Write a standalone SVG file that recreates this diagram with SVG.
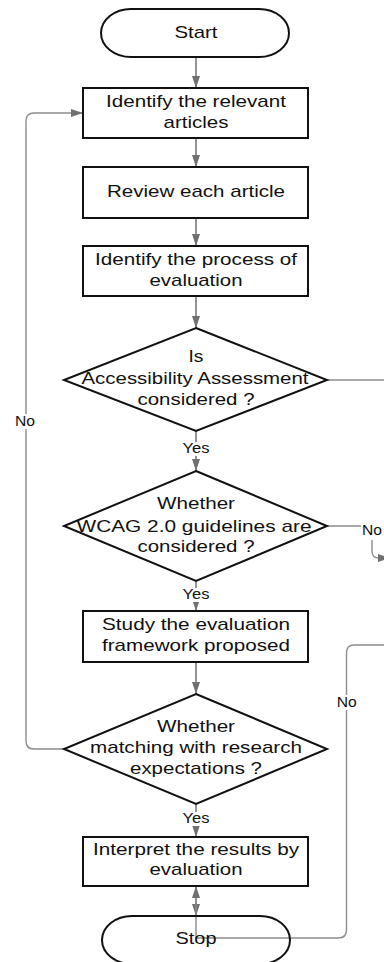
<svg xmlns="http://www.w3.org/2000/svg" width="384" height="962" viewBox="0 0 384 962">
  <defs>
    <style>
      .node { fill: #ffffff; stroke: #111111; stroke-width: 2; }
      .conn { fill: none; stroke: #7a7a7a; stroke-width: 1.6; }
      .loop { fill: none; stroke: #8c8c8c; stroke-width: 1.4; }
      .t { font-family: "Liberation Sans", Arial, sans-serif; font-size: 17px; fill: #111111; text-anchor: middle; }
      .lbl { font-family: "Liberation Sans", Arial, sans-serif; font-size: 14px; fill: #111111; text-anchor: middle; }
      .lblbg { fill: #ffffff; stroke: none; }
    </style>
    <marker id="arrow" viewBox="0 0 12 8" refX="12" refY="4" markerWidth="12" markerHeight="8" markerUnits="userSpaceOnUse" orient="auto">
      <path d="M0,0 L12,4 L0,8 z" fill="#707070"/>
    </marker>
  </defs>
  <rect width="384" height="962" fill="#ffffff"/>

  <g id="connectors">
    <path class="conn" d="M196,57 V88" marker-end="url(#arrow)"/>
    <path class="conn" d="M196,138 V167" marker-end="url(#arrow)"/>
    <path class="conn" d="M196,218 V246" marker-end="url(#arrow)"/>
    <path class="conn" d="M196,296 V328" marker-end="url(#arrow)"/>
    <path class="conn" d="M196,431 V471" marker-end="url(#arrow)"/>
    <path class="conn" d="M196,581 V611" marker-end="url(#arrow)"/>
    <path class="conn" d="M196,662 V694" marker-end="url(#arrow)"/>
    <path class="conn" d="M196,804 V837" marker-end="url(#arrow)"/>
    <path class="conn" d="M196,886 V916" marker-end="url(#arrow)"/>
    <path class="loop" d="M64,749 H34 Q26,749 26,741 V121 Q26,113 34,113 H83" marker-end="url(#arrow)"/>
    <path class="loop" d="M327,380 H392"/>
    <path class="loop" d="M327,526 H372 V551 Q372,558 379,558 H390" marker-end="url(#arrow)"/>
    <path class="loop" d="M392,645 H354 Q346.5,645 346.5,653 V930 Q346.5,938 338,938 H196 V886" marker-end="url(#arrow)"/>

    <rect class="lblbg" x="181" y="442" width="30" height="14"/>
    <text class="lbl" x="196" y="453.3" textLength="27" lengthAdjust="spacingAndGlyphs">Yes</text>
    <rect class="lblbg" x="181" y="588" width="30" height="14"/>
    <text class="lbl" x="196" y="599" textLength="27" lengthAdjust="spacingAndGlyphs">Yes</text>
    <rect class="lblbg" x="181" y="812" width="30" height="14"/>
    <text class="lbl" x="196" y="823.3" textLength="27" lengthAdjust="spacingAndGlyphs">Yes</text>
    <rect class="lblbg" x="14" y="414" width="22" height="15"/>
    <text class="lbl" x="25" y="425.7" textLength="20" lengthAdjust="spacingAndGlyphs">No</text>
    <rect class="lblbg" x="361" y="523" width="23" height="17"/>
    <text class="lbl" x="372" y="535" textLength="20" lengthAdjust="spacingAndGlyphs">No</text>
    <rect class="lblbg" x="336" y="695" width="22" height="15"/>
    <text class="lbl" x="346.7" y="706.7" textLength="20" lengthAdjust="spacingAndGlyphs">No</text>
  </g>

  <g id="start">
    <rect class="node" x="101" y="9" width="188" height="48" rx="30" ry="24"/>
    <text class="t" x="196" y="37.5" textLength="43" lengthAdjust="spacingAndGlyphs">Start</text>
  </g>
  <g id="identify-articles">
    <rect class="node" x="83" y="88" width="225" height="50"/>
    <text class="t" x="196" y="106.7" textLength="180" lengthAdjust="spacingAndGlyphs">Identify the relevant</text>
    <text class="t" x="196" y="127.7" textLength="65" lengthAdjust="spacingAndGlyphs">articles</text>
  </g>
  <g id="review-article">
    <rect class="node" x="83" y="167" width="225" height="51"/>
    <text class="t" x="196" y="196.7" textLength="178" lengthAdjust="spacingAndGlyphs">Review each article</text>
  </g>
  <g id="identify-process">
    <rect class="node" x="83" y="246" width="225" height="50"/>
    <text class="t" x="196" y="264.5" textLength="202" lengthAdjust="spacingAndGlyphs">Identify the process of</text>
    <text class="t" x="196" y="286" textLength="93" lengthAdjust="spacingAndGlyphs">evaluation</text>
  </g>
  <g id="accessibility-decision">
    <polygon class="node" points="196,328 327,380 196,431 64,380"/>
    <text class="t" x="196" y="361.7" textLength="15" lengthAdjust="spacingAndGlyphs">Is</text>
    <text class="t" x="195" y="384" textLength="227" lengthAdjust="spacingAndGlyphs">Accessibility Assessment</text>
    <text class="t" x="196" y="405" textLength="117" lengthAdjust="spacingAndGlyphs">considered ?</text>
  </g>
  <g id="wcag-decision">
    <polygon class="node" points="196,471 327,526 196,581 64,526"/>
    <text class="t" x="196" y="509" textLength="78" lengthAdjust="spacingAndGlyphs">Whether</text>
    <text class="t" x="194" y="531.7" textLength="235" lengthAdjust="spacingAndGlyphs">WCAG 2.0 guidelines are</text>
    <text class="t" x="196" y="551.7" textLength="117" lengthAdjust="spacingAndGlyphs">considered ?</text>
  </g>
  <g id="study-framework">
    <rect class="node" x="83" y="611" width="225" height="51"/>
    <text class="t" x="196" y="630" textLength="188" lengthAdjust="spacingAndGlyphs">Study the evaluation</text>
    <text class="t" x="196" y="650.7" textLength="188" lengthAdjust="spacingAndGlyphs">framework proposed</text>
  </g>
  <g id="matching-decision">
    <polygon class="node" points="196,694 327,749 196,804 64,749"/>
    <text class="t" x="196" y="731.7" textLength="78" lengthAdjust="spacingAndGlyphs">Whether</text>
    <text class="t" x="196" y="753.3" textLength="212" lengthAdjust="spacingAndGlyphs">matching with research</text>
    <text class="t" x="196" y="774" textLength="132" lengthAdjust="spacingAndGlyphs">expectations ?</text>
  </g>
  <g id="interpret-results">
    <rect class="node" x="83" y="837" width="225" height="49"/>
    <text class="t" x="196" y="855" textLength="206" lengthAdjust="spacingAndGlyphs">Interpret the results by</text>
    <text class="t" x="196" y="875" textLength="93" lengthAdjust="spacingAndGlyphs">evaluation</text>
  </g>
  <g id="stop">
    <rect class="node" x="102" y="916" width="188" height="48" rx="30" ry="24" fill="none" style="fill:none"/>
    <text class="t" x="196" y="944" textLength="41" lengthAdjust="spacingAndGlyphs">Stop</text>
  </g>
</svg>
